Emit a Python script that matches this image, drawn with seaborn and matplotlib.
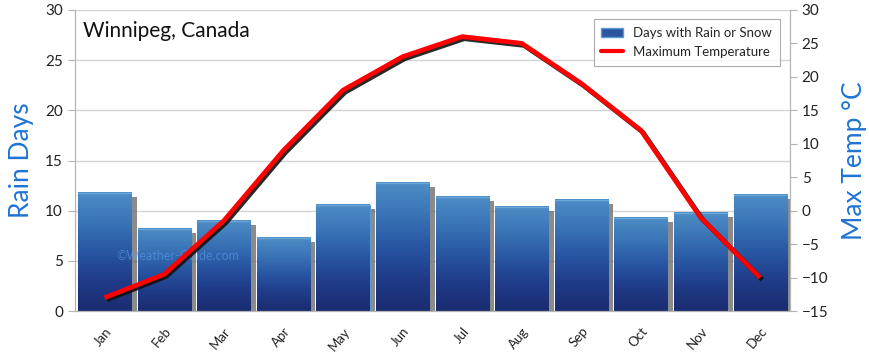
import numpy as np
import pandas as pd
import seaborn as sns
import matplotlib.pyplot as plt
import matplotlib.patheffects as pe
from matplotlib.colors import LinearSegmentedColormap
from matplotlib.lines import Line2D
from matplotlib.patches import Patch

# --------------------------------------
# Data
# --------------------------------------
months = ["Jan", "Feb", "Mar", "Apr", "May", "Jun",
          "Jul", "Aug", "Sep", "Oct", "Nov", "Dec"]
rain_days = [11.8, 8.2, 9.0, 7.3, 10.6, 12.8, 11.4, 10.4, 11.1, 9.3, 9.8, 11.6]
max_temp = [-13, -9.5, -1.5, 9, 18, 23, 26, 25, 19, 12, -1, -10]
left_ticks = [0, 5, 10, 15, 20, 25, 30]
right_ticks = [-15, -10, -5, 0, 5, 10, 15, 20, 25, 30]

df = pd.DataFrame({"month": months, "rain": rain_days, "temp": max_temp})
df["pos"] = np.arange(len(months))

sns.set_style("white")
plt.rcParams["font.family"] = ["Lato", "DejaVu Sans"]

blue_label = "#1f74d4"
grid_col = "#d4d4d4"
spine_col = "#b4b4b4"

fig = plt.figure(figsize=(8.7, 3.52), dpi=100)
ax = fig.add_axes([0.086, 0.116, 0.822, 0.856])

# --------------------------------------
# Bars (rain days) with gradient and shadow
# --------------------------------------
sns.barplot(data=df, x="month", y="rain", ax=ax, color="#2a55a0",
            width=0.89, saturation=1, edgecolor="#5c9ad2", linewidth=0.8)

cmap = LinearSegmentedColormap.from_list(
    "bar", ["#1b2c70", "#1f3b88", "#2856a3", "#3a74b6", "#4d8dc6"])
grad = np.linspace(0, 1, 256).reshape(-1, 1)
for p in list(ax.patches):
    p.set_path_effects([pe.SimplePatchShadow(offset=(4, -3), shadow_rgbFace="#6e6e6e", alpha=0.8),
                        pe.Normal()])
    x0, w, h = p.get_x(), p.get_width(), p.get_height()
    ax.imshow(grad, extent=[x0, x0 + w, 0, h], origin="lower", aspect="auto",
              cmap=cmap, vmin=0, vmax=1, zorder=p.get_zorder() + 0.1)
    ax.plot([x0, x0 + w], [h, h], color="#6aa6d8", lw=1.0, zorder=p.get_zorder() + 0.2)

ax.set_xlim(-0.5, 11.5)
ax.set_ylim(0, 30)
ax.set_yticks(left_ticks)
ax.yaxis.grid(True, color=grid_col, lw=1)
ax.set_axisbelow(True)
ax.set_xlabel("")
ax.set_ylabel("Rain Days", color=blue_label, fontsize=19, labelpad=8)

# category ticks sit between bars
ax.set_xticks(np.arange(len(months)))
ax.set_xticklabels(months, rotation=50, ha="right", rotation_mode="anchor",
                   fontsize=9.5, color="#222222")
ax.set_xticks(np.arange(-0.5, 12, 1), minor=True)
ax.tick_params(axis="x", which="major", length=0, pad=10)
ax.tick_params(axis="x", which="minor", length=6, color=spine_col, width=1)
ax.tick_params(axis="y", length=5, color=spine_col, labelsize=11, labelcolor="#222222")
for side in ["left", "right", "bottom"]:
    ax.spines[side].set_color(spine_col)
ax.spines["top"].set_visible(False)

ax.text(0.2, 5.5, "\u00a9Weather-Guide.com", color="#5a9ce8", alpha=0.6,
        fontsize=9, va="center", zorder=5)

# --------------------------------------
# Line (max temperature) on right axis
# --------------------------------------
ax2 = ax.twinx()
sns.lineplot(data=df, x="pos", y="temp", ax=ax2, color="#ff0000", lw=3.4,
             solid_joinstyle="round", solid_capstyle="butt",
             path_effects=[pe.SimpleLineShadow(offset=(1.5, -1.5), shadow_color="#111111", alpha=0.9),
                           pe.Normal()])
ax2.set_ylim(-15, 30)
ax2.set_yticks(right_ticks)
ax2.set_xlim(-0.5, 11.5)
ax2.set_xlabel("")
ax2.set_ylabel("Max Temp \u00b0C", color=blue_label, fontsize=19, labelpad=10)
ax2.tick_params(axis="y", length=5, color=spine_col, labelsize=11, labelcolor="#222222")
for side in ["left", "right", "bottom"]:
    ax2.spines[side].set_color(spine_col)
ax2.spines["top"].set_visible(False)

ax.text(0.012, 0.93, "Winnipeg, Canada", transform=ax.transAxes, fontsize=15,
        color="#111111", va="center")

handles = [Patch(facecolor="#2a55a0", edgecolor="#5c9ad2"),
           Line2D([0], [0], color="#ff0000", lw=3)]
leg = ax2.legend(handles, ["Days with Rain or Snow", "Maximum Temperature"],
                 loc="upper right", bbox_to_anchor=(0.995, 0.99), fontsize=9.5,
                 frameon=True, fancybox=False, handlelength=1.6, borderpad=0.6)
leg.get_frame().set_edgecolor("#999999")
leg.get_frame().set_linewidth(0.8)

fig.savefig("out.png", dpi=100)
